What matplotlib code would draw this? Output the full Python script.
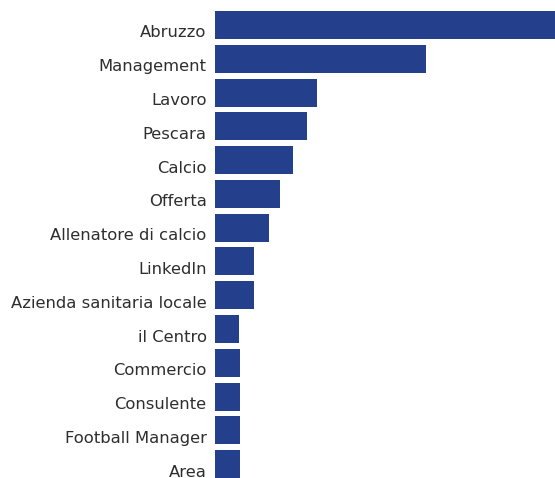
import matplotlib
matplotlib.use("Agg")
import matplotlib.pyplot as plt
from matplotlib.transforms import ScaledTranslation

# Related search topics and their relative interest (0-100)
topics = [
    "Abruzzo", "Management", "Lavoro", "Pescara", "Calcio", "Offerta",
    "Allenatore di calcio", "LinkedIn", "Azienda sanitaria locale",
    "il Centro", "Commercio", "Consulente", "Football Manager", "Area",
]
interest = [100, 62, 30, 27, 23, 19, 16, 11.5, 11.5, 7, 7.3, 7.3, 7.3, 7.3]

bar_color = "#243f8c"
text_color = "#2e2e2e"

fig = plt.figure(figsize=(5.55, 4.78), dpi=100)
ax = fig.add_axes([215 / 555, 0.0, 340 / 555, 1.0])

positions = list(range(len(topics)))
ax.barh(positions, interest, height=0.83, color=bar_color, edgecolor="none")

ax.set_xlim(0, 100)
ax.set_ylim(13.41, -0.74)

ax.set_yticks(positions)
ax.set_yticklabels(topics, fontsize=11.8, color=text_color, family="DejaVu Sans")
ax.tick_params(axis="y", length=0, pad=6)

# labels sit slightly low, toward the bottom edge of each bar
shift = ScaledTranslation(0, -6.5 / 100, fig.dpi_scale_trans)
for lbl in ax.get_yticklabels():
    lbl.set_transform(lbl.get_transform() + shift)

ax.set_xticks([])
for spine in ax.spines.values():
    spine.set_visible(False)

fig.savefig("out.png", dpi=100)
